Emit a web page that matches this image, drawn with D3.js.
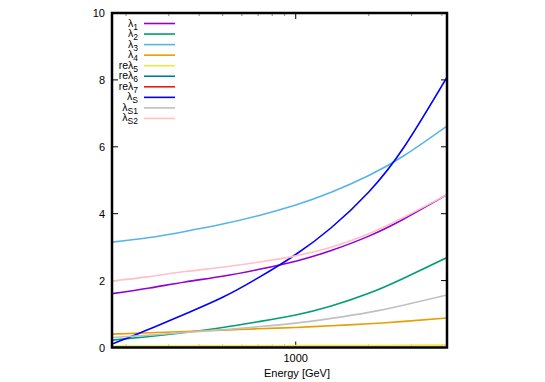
<!DOCTYPE html>
<html>
<head>
<meta charset="utf-8">
<script src="https://cdn.jsdelivr.net/npm/d3@7"></script>
<style>
  body { margin: 0; background: #fff; }
  svg { font-family: "Liberation Sans", Arial, sans-serif; }
</style>
</head>
<body>
<svg id="chart" width="545" height="382"></svg>
<script>
var energy = [175, 250, 350, 500, 700, 1000, 1400, 2000, 2800, 4200];

var lam1  = [1.61, 1.78, 1.96, 2.13, 2.33, 2.58, 2.90, 3.33, 3.85, 4.57];
var lam2  = [0.22, 0.33, 0.45, 0.60, 0.77, 0.97, 1.24, 1.62, 2.08, 2.69];
var lam3  = [3.15, 3.29, 3.47, 3.69, 3.94, 4.26, 4.64, 5.14, 5.74, 6.62];
var lam4  = [0.40, 0.44, 0.48, 0.52, 0.56, 0.60, 0.65, 0.71, 0.78, 0.88];
var reLam5 = [0.04, 0.04, 0.045, 0.05, 0.05, 0.055, 0.06, 0.06, 0.065, 0.07];
var reLam6 = [-0.05, -0.05, -0.05, -0.05, -0.05, -0.05, -0.05, -0.05, -0.05, -0.05];
var reLam7 = [-0.05, -0.05, -0.05, -0.05, -0.05, -0.05, -0.05, -0.05, -0.05, -0.05];
var lamS  = [0.10, 0.55, 1.00, 1.50, 2.08, 2.78, 3.58, 4.65, 6.00, 8.08];
var lamS1 = [0.30, 0.37, 0.45, 0.53, 0.62, 0.73, 0.87, 1.05, 1.27, 1.57];
var lamS2 = [1.99, 2.12, 2.27, 2.40, 2.55, 2.74, 3.00, 3.40, 3.90, 4.57];

// legend: [prefix, subscript]
var names = [["λ", "1"], ["λ", "2"], ["λ", "3"], ["λ", "4"], ["reλ", "5"], ["reλ", "6"],
             ["reλ", "7"], ["λ", "S"], ["λ", "S1"], ["λ", "S2"]];
var colors = ["#9400d3", "#009e73", "#56b4e9", "#e69f00", "#f0e442", "#0072b2",
              "#e51e10", "#0000ff", "#c0c0c0", "#ffc0cb"];
var seriesValues = [lam1, lam2, lam3, lam4, reLam5, reLam6, reLam7, lamS, lamS1, lamS2];

var yTicks = [0, 2, 4, 6, 8, 10];
var xMajor = [1000];
var xMinor = [200, 300, 400, 500, 600, 700, 800, 900, 2000, 3000, 4000];

var pLeft = 112, pRight = 447, pTop = 13, pBottom = 347.5;

var x = d3.scaleLog().domain([175, 4200]).range([pLeft, pRight]);
var y = d3.scaleLinear().domain([0, 10]).range([pBottom, pTop]);

var svg = d3.select("#chart");

svg.append("defs").append("clipPath").attr("id", "clip")
  .append("rect").attr("x", pLeft).attr("y", pTop)
  .attr("width", pRight - pLeft).attr("height", pBottom - pTop);

// ticks, all inward, on both sides
var tk = svg.append("g").attr("stroke", "#000").attr("stroke-width", 1);
yTicks.forEach(function (v) {
  tk.append("line").attr("x1", pLeft).attr("x2", pLeft + 6).attr("y1", y(v)).attr("y2", y(v));
  tk.append("line").attr("x1", pRight).attr("x2", pRight - 6).attr("y1", y(v)).attr("y2", y(v));
});
xMajor.forEach(function (v) {
  tk.append("line").attr("x1", x(v)).attr("x2", x(v)).attr("y1", pBottom).attr("y2", pBottom - 6);
  tk.append("line").attr("x1", x(v)).attr("x2", x(v)).attr("y1", pTop).attr("y2", pTop + 6);
});
xMinor.forEach(function (v) {
  tk.append("line").attr("x1", x(v)).attr("x2", x(v)).attr("y1", pBottom).attr("y2", pBottom - 3)
    .attr("stroke", "#888");
  tk.append("line").attr("x1", x(v)).attr("x2", x(v)).attr("y1", pTop).attr("y2", pTop + 3)
    .attr("stroke", "#888");
});

// tick labels
svg.append("g").selectAll("text").data(yTicks).enter().append("text")
  .attr("x", pLeft - 7).attr("y", function (d) { return y(d) + 4; })
  .attr("text-anchor", "end").attr("font-size", 11).text(function (d) { return d; });

svg.append("g").selectAll("text").data(xMajor).enter().append("text")
  .attr("x", function (d) { return x(d); }).attr("y", pBottom + 14)
  .attr("text-anchor", "middle").attr("font-size", 11).text(function (d) { return d; });

svg.append("text").attr("x", 297).attr("y", 377).attr("text-anchor", "middle")
  .attr("font-size", 11).text("Energy [GeV]");

// curves
var line = d3.line()
  .x(function (d, i) { return x(energy[i]); })
  .y(function (d) { return y(d); })
  .curve(d3.curveNatural);

var plot = svg.append("g").attr("clip-path", "url(#clip)");
seriesValues.forEach(function (vals, k) {
  plot.append("path")
    .datum(vals)
    .attr("fill", "none")
    .attr("stroke", colors[k])
    .attr("stroke-width", 1.6)
    .attr("d", line);
});

// legend
var lg = svg.append("g");
names.forEach(function (n, k) {
  var ly = 23.5 + k * 10.55;
  var t = lg.append("text").attr("x", 138).attr("y", ly + 3)
    .attr("text-anchor", "end").attr("font-size", 10.5);
  t.append("tspan").text(n[0]);
  t.append("tspan").attr("dy", 3).attr("font-size", 8.5).text(n[1]);
  lg.append("line").attr("x1", 144).attr("x2", 175).attr("y1", ly).attr("y2", ly)
    .attr("stroke", colors[k]).attr("stroke-width", 1.6);
});

// border
svg.append("rect").attr("x", pLeft).attr("y", pTop)
  .attr("width", pRight - pLeft).attr("height", pBottom - pTop)
  .attr("fill", "none").attr("stroke", "#000").attr("stroke-width", 2.5);
</script>
</body>
</html>
